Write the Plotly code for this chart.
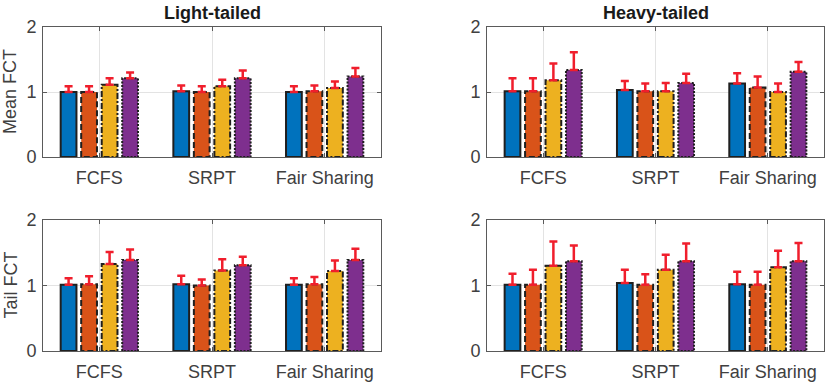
import plotly.graph_objects as go
from plotly.subplots import make_subplots

# kategorier och serier
categories = ["FCFS", "SRPT", "Fair Sharing"]
series_names = ["Scheme 1", "Scheme 2", "Scheme 3", "Scheme 4"]
panel_titles = ["Light-tailed", "Heavy-tailed"]
row_labels = ["Mean FCT", "Tail FCT"]

# värden per panel: en rad per serie, en kolumn per kategori
light_mean = [[1.00, 1.01, 1.00], [1.00, 1.00, 1.01], [1.11, 1.09, 1.06], [1.21, 1.21, 1.24]]
light_mean_err = [[0.09, 0.09, 0.09], [0.09, 0.09, 0.09], [0.10, 0.10, 0.10], [0.09, 0.12, 0.13]]

heavy_mean = [[1.01, 1.03, 1.13], [1.01, 1.01, 1.07], [1.18, 1.01, 1.00], [1.34, 1.14, 1.31]]
heavy_mean_err = [[0.20, 0.14, 0.16], [0.20, 0.12, 0.17], [0.26, 0.13, 0.13], [0.27, 0.14, 0.15]]

light_tail = [[1.01, 1.02, 1.01], [1.02, 1.00, 1.02], [1.33, 1.23, 1.22], [1.39, 1.31, 1.39]]
light_tail_err = [[0.10, 0.13, 0.10], [0.12, 0.09, 0.11], [0.18, 0.17, 0.16], [0.16, 0.13, 0.17]]

heavy_tail = [[1.01, 1.04, 1.02], [1.01, 1.01, 1.01], [1.30, 1.24, 1.28], [1.37, 1.37, 1.37]]
heavy_tail_err = [[0.17, 0.20, 0.19], [0.23, 0.16, 0.20], [0.37, 0.23, 0.25], [0.24, 0.27, 0.28]]

panels = [
    (1, 1, light_mean, light_mean_err),
    (1, 2, heavy_mean, heavy_mean_err),
    (2, 1, light_tail, light_tail_err),
    (2, 2, heavy_tail, heavy_tail_err),
]

# stil (matlab-liknande)
colors = ["#0072BD", "#D95319", "#EDB120", "#7E2F8E"]
edge_dash = ["solid", "6px,3px", "6px,2px,2px,2px", "2px,1.5px"]
edge_color = "#1f1f1f"
err_color = "#F01E2C"
text_color = "#404040"
font_family = "Liberation Sans, Arial, sans-serif"

bar_w = 0.14
spacing = 0.182
offsets = [(i - 1.5) * spacing for i in range(4)]
xpos = [1, 2, 3]

fig = make_subplots(rows=2, cols=2)

for row, col, vals, errs in panels:
    for s in range(4):
        # själva staplarna
        fig.add_trace(go.Bar(
            x=xpos, y=vals[s], name=series_names[s],
            width=bar_w, offset=offsets[s] - bar_w / 2,
            marker=dict(color=colors[s], line=dict(width=0)),
            showlegend=False,
        ), row=row, col=col)
    for s in range(4):
        # kantlinjer med streckstil
        ex, ey = [], []
        for x, v in zip(xpos, vals[s]):
            x0 = x + offsets[s] - bar_w / 2
            x1 = x + offsets[s] + bar_w / 2
            ex += [x0, x0, x1, x1, x0, None]
            ey += [0, v, v, 0, 0, None]
        fig.add_trace(go.Scatter(
            x=ex, y=ey, mode="lines",
            line=dict(color=edge_color, width=2, dash=edge_dash[s]),
            showlegend=False, hoverinfo="skip",
        ), row=row, col=col)
    for s in range(4):
        # felstaplar, bara uppåt
        fig.add_trace(go.Scatter(
            x=[x + offsets[s] for x in xpos], y=vals[s], mode="markers",
            marker=dict(size=1, color="rgba(0,0,0,0)"),
            error_y=dict(type="data", symmetric=False, array=errs[s],
                         arrayminus=[0] * len(errs[s]),
                         color=err_color, thickness=2.5, width=4),
            showlegend=False,
        ), row=row, col=col)

# axlarnas placering
x_domains = [[43 / 830, 381 / 830], [487 / 830, 824 / 830]]
y_domains = [[1 - 157 / 385, 1 - 27 / 385], [1 - 351 / 385, 1 - 220 / 385]]

for row in (1, 2):
    for col in (1, 2):
        fig.update_xaxes(
            domain=x_domains[col - 1], range=[0.5, 3.5], automargin=False,
            tickvals=xpos, ticktext=categories,
            showgrid=True, gridcolor="#E3E3E3", gridwidth=1,
            showline=True, linecolor="#5a5a5a", linewidth=1, mirror="ticks",
            ticks="inside", ticklen=4, tickcolor="#5a5a5a",
            tickfont=dict(size=18, color=text_color, family=font_family),
            ticklabelstandoff=4, zeroline=False,
            row=row, col=col,
        )
        fig.update_yaxes(
            domain=y_domains[row - 1], range=[0, 2], automargin=False,
            tickvals=[0, 1, 2],
            showgrid=True, gridcolor="#E3E3E3", gridwidth=1,
            showline=True, linecolor="#5a5a5a", linewidth=1, mirror="ticks",
            ticks="inside", ticklen=4, tickcolor="#5a5a5a",
            tickfont=dict(size=18, color=text_color, family=font_family),
            ticklabelstandoff=2, zeroline=False,
            row=row, col=col,
        )

annotations = []
for col, title in enumerate(panel_titles):
    xd = x_domains[col]
    annotations.append(dict(
        text="<b>" + title + "</b>", x=(xd[0] + xd[1]) / 2, y=1 - 13 / 385,
        xref="paper", yref="paper", showarrow=False,
        xanchor="center", yanchor="middle",
        font=dict(size=18, color="#1a1a1a", family=font_family),
    ))
for row, label in enumerate(row_labels):
    yd = y_domains[row]
    annotations.append(dict(
        text=label, x=10 / 830, y=(yd[0] + yd[1]) / 2,
        xref="paper", yref="paper", showarrow=False, textangle=-90,
        xanchor="center", yanchor="middle",
        font=dict(size=18, color=text_color, family=font_family),
    ))

fig.update_layout(
    width=830, height=385,
    margin=dict(l=0, r=0, t=0, b=0),
    plot_bgcolor="white", paper_bgcolor="white",
    barmode="overlay",
    annotations=annotations,
    font=dict(family=font_family),
)

# sidans standardmarginal bort så att figuren hamnar i hörnet, ingen modebar
fig.write_html("out.html", config={"displayModeBar": False},
               post_script="document.body.style.margin = '0';")
